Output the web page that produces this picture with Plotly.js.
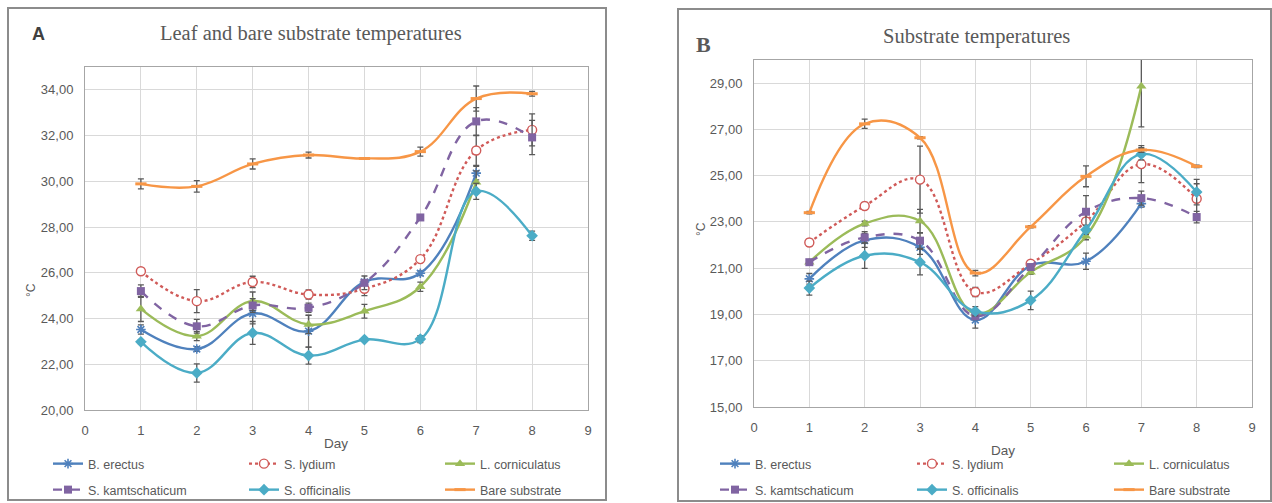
<!DOCTYPE html>
<html>
<head>
<meta charset="utf-8">
<script src="https://cdn.plot.ly/plotly-3.0.1.min.js"></script>
<style>
  html, body { margin: 0; padding: 0; background: #ffffff; overflow: hidden; }
  #chart { width: 1272px; height: 503px; }
</style>
</head>
<body>
<div id="chart"></div>
<script>
// Measurement days
const days = [1, 2, 3, 4, 5, 6, 7, 8];

const seriesNames = ['B. erectus', 'S. lydium', 'L. corniculatus', 'S. kamtschaticum', 'S. officinalis', 'Bare substrate'];

// Panel A: leaf and bare substrate temperatures (°C)
const erectusA = [23.52, 22.67, 24.22, 23.45, 25.60, 25.98, 30.36, null];
const lydiumA  = [26.07, 24.76, 25.60, 25.05, 25.30, 26.60, 31.35, 32.25];
const cornicA  = [24.42, 23.23, 24.76, 23.74, 24.32, 25.39, 29.96, null];
const kamtA    = [25.20, 23.66, 24.57, 24.47, 25.56, 28.42, 32.62, 31.92];
const officA   = [22.98, 21.62, 23.37, 22.38, 23.08, 23.10, 29.56, 27.62];
const bareA    = [29.89, 29.78, 30.76, 31.15, 31.00, 31.30, 33.62, 33.83];

// Panel A: standard errors
const erectusAErr = [0.20, 0.10, 0.45, 0.70, 0.10, 0.10, 0.30, null];
const lydiumAErr  = [0.05, 0.50, 0.25, 0.20, 0.30, 0.10, 0.65, 0.70];
const cornicAErr  = [0.55, 0.20, 0.40, 0.40, 0.30, 0.20, 0.50, null];
const kamtAErr    = [0.27, 0.30, 0.30, 0.20, 0.30, 0.05, 0.60, 0.75];
const officAErr   = [0.10, 0.40, 0.50, 0.37, 0.05, 0.15, 0.35, 0.20];
const bareAErr    = [0.22, 0.25, 0.22, 0.13, 0.02, 0.20, 0.55, 0.10];

// Panel B: substrate temperatures (°C)
const erectusB = [20.54, 22.20, 21.90, 18.76, 21.11, 21.30, 23.79, null];
const lydiumB  = [22.11, 23.69, 24.83, 19.97, 21.19, 23.02, 25.50, 24.00];
const cornicB  = [21.26, 22.93, 23.04, 19.04, 20.83, 22.38, 28.86, null];
const kamtB    = [21.26, 22.33, 22.19, 18.93, 21.05, 23.44, 24.03, 23.21];
const officB   = [20.14, 21.54, 21.26, 19.14, 19.61, 22.66, 25.93, 24.29];
const bareB    = [23.40, 27.24, 26.64, 20.79, 22.79, 24.97, 26.11, 25.40];

// Panel B: standard errors
const erectusBErr = [0.23, 0.30, 0.30, 0.35, 0.05, 0.35, 0.15, null];
const lydiumBErr  = [0.15, 0.15, 1.45, 0.20, 0.10, 0.35, 0.80, 0.65];
const cornicBErr  = [0.10, 0.10, 0.50, 0.15, 0.10, 0.15, 1.75, null];
const kamtBErr    = [0.10, 0.25, 0.33, 0.15, 0.12, 0.70, 0.30, 0.25];
const officBErr   = [0.30, 0.55, 0.55, 0.20, 0.40, 0.20, 0.25, 0.55];
const bareBErr    = [0.05, 0.20, 0.05, 0.12, 0.05, 0.45, 0.10, 0.05];

const W = 1272, H = 503;
const px = v => v / W;
const py = v => 1 - v / H;

const textGray = '#595959';
const narrow = 'Liberation Sans Narrow, Arial Narrow, sans-serif';

// Line / marker style for each series
const styles = [
  { color: '#4F81BD', dash: 'solid', marker: { symbol: 'asterisk-open', size: 8, line: { width: 1.6, color: '#4F81BD' } } },
  { color: '#D05A58', dash: 'dot',   marker: { symbol: 'circle', size: 9, color: '#ffffff', line: { width: 1.4, color: '#D05A58' } } },
  { color: '#9BBB59', dash: 'solid', marker: { symbol: 'triangle-up', size: 9, color: '#9BBB59', line: { width: 0 } } },
  { color: '#8064A2', dash: 'dash',  marker: { symbol: 'square', size: 8, color: '#8064A2', line: { width: 0 } } },
  { color: '#4BACC6', dash: 'solid', marker: { symbol: 'diamond', size: 9, color: '#4BACC6', line: { width: 0 } } },
  { color: '#F79646', dash: 'solid', marker: { symbol: 'line-ew-open', size: 8, line: { width: 3, color: '#F79646' } } }
];

const panelA = [[erectusA, erectusAErr], [lydiumA, lydiumAErr], [cornicA, cornicAErr], [kamtA, kamtAErr], [officA, officAErr], [bareA, bareAErr]];
const panelB = [[erectusB, erectusBErr], [lydiumB, lydiumBErr], [cornicB, cornicBErr], [kamtB, kamtBErr], [officB, officBErr], [bareB, bareBErr]];

function makeTraces(panel, xa, ya, legendTop, legendBottom, lightErectus) {
  return panel.map(([vals, errs], i) => {
    const st = JSON.parse(JSON.stringify(styles[i]));
    if (lightErectus && i === 0) st.marker.line.color = '#8FB4E3';
    return {
      type: 'scatter',
      mode: 'lines+markers',
      x: days,
      y: vals,
      name: seriesNames[i],
      xaxis: xa,
      yaxis: ya,
      legend: i < 3 ? legendTop : legendBottom,
      line: { color: st.color, width: 2.4, dash: st.dash, shape: 'spline', smoothing: 1.15 },
      marker: st.marker,
      error_y: { type: 'data', array: errs.map(e => e === null ? 0 : e), visible: true, color: '#595959', thickness: 1.3, width: 3 },
      connectgaps: false,
      hoverinfo: 'x+y+name'
    };
  });
}

const traces = [
  ...makeTraces(panelA, 'x', 'y', 'legend', 'legend2', false),
  ...makeTraces(panelB, 'x2', 'y2', 'legend3', 'legend4', true)
];

const axisBase = {
  showgrid: true,
  gridcolor: '#d9d9d9',
  gridwidth: 1,
  showline: true,
  linecolor: '#a6a6a6',
  linewidth: 1,
  mirror: true,
  zeroline: false,
  ticks: '',
  tickfont: { family: narrow, size: 13, color: textGray },
  fixedrange: true
};

const xBase = Object.assign({}, axisBase, { range: [0, 9], dtick: 1, tick0: 0, ticklabelstandoff: 8 });
const yBase = Object.assign({}, axisBase, { dtick: 2, tickformat: '.2f', ticklabelstandoff: 8 });

function legendAt(x, yMid, entry) {
  return {
    orientation: 'h',
    x: px(x), y: py(yMid), xanchor: 'left', yanchor: 'middle',
    entrywidth: entry, entrywidthmode: 'pixels',
    bgcolor: 'rgba(0,0,0,0)', borderwidth: 0,
    font: { family: narrow, size: 12.5, color: textGray },
    itemclick: false, itemdoubleclick: false
  };
}

const layout = {
  width: W, height: H,
  margin: { l: 0, r: 0, t: 0, b: 0, autoexpand: false },
  paper_bgcolor: '#ffffff',
  plot_bgcolor: '#ffffff',
  separators: ', ',
  showlegend: true,
  xaxis: Object.assign({}, xBase, { domain: [px(85), px(588)], anchor: 'y' }),
  yaxis: Object.assign({}, yBase, { domain: [py(410), py(67)], range: [20, 35], tick0: 20, anchor: 'x' }),
  xaxis2: Object.assign({}, xBase, { domain: [px(754), px(1252)], anchor: 'y2' }),
  yaxis2: Object.assign({}, yBase, { domain: [py(407), py(60)], range: [15, 30], tick0: 15, anchor: 'x2' }),
  legend: legendAt(48, 464, 151),
  legend2: legendAt(48, 490, 151),
  legend3: legendAt(715, 464, 152),
  legend4: legendAt(715, 490, 152),
  shapes: [
    // panel frames
    { type: 'rect', xref: 'paper', yref: 'paper', x0: px(8), x1: px(606), y0: py(500), y1: py(8), line: { color: '#8c8c8c', width: 2 }, layer: 'below' },
    { type: 'rect', xref: 'paper', yref: 'paper', x0: px(678), x1: px(1271), y0: py(501), y1: py(9), line: { color: '#8c8c8c', width: 2 }, layer: 'below' }
  ],
  annotations: [
    { text: 'A', xref: 'paper', yref: 'paper', x: px(38), y: py(34), xanchor: 'center', yanchor: 'middle', showarrow: false,
      font: { family: 'Liberation Sans, Arial, sans-serif', size: 18, color: '#404040', weight: 'bold' } },
    { text: 'Leaf and bare substrate temperatures', xref: 'paper', yref: 'paper', x: px(311), y: py(33), xanchor: 'center', yanchor: 'middle', showarrow: false,
      font: { family: 'Liberation Serif, serif', size: 20.5, color: textGray } },
    { text: 'B', xref: 'paper', yref: 'paper', x: px(703), y: py(44), xanchor: 'center', yanchor: 'middle', showarrow: false,
      font: { family: 'Liberation Serif, serif', size: 22, color: textGray, weight: 'bold' } },
    { text: 'Substrate temperatures', xref: 'paper', yref: 'paper', x: px(976), y: py(36), xanchor: 'center', yanchor: 'middle', showarrow: false,
      font: { family: 'Liberation Serif, serif', size: 20.5, color: textGray } },
    { text: '°C', xref: 'paper', yref: 'paper', x: px(31), y: py(290), xanchor: 'center', yanchor: 'middle', showarrow: false, textangle: -90,
      font: { family: narrow, size: 12, color: textGray } },
    { text: '°C', xref: 'paper', yref: 'paper', x: px(701), y: py(229), xanchor: 'center', yanchor: 'middle', showarrow: false, textangle: -90,
      font: { family: narrow, size: 12, color: textGray } },
    { text: 'Day', xref: 'paper', yref: 'paper', x: px(336), y: py(443), xanchor: 'center', yanchor: 'middle', showarrow: false,
      font: { family: narrow, size: 13.5, color: textGray } },
    { text: 'Day', xref: 'paper', yref: 'paper', x: px(1003), y: py(450), xanchor: 'center', yanchor: 'middle', showarrow: false,
      font: { family: narrow, size: 13.5, color: textGray } }
  ]
};

Plotly.newPlot('chart', traces, layout, { displayModeBar: false, staticPlot: true });
</script>
</body>
</html>
